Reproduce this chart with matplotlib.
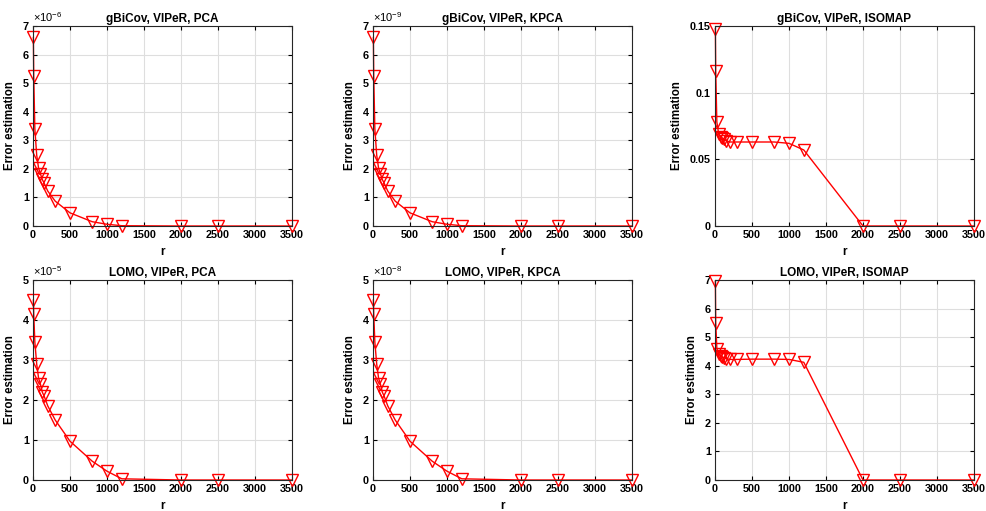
import matplotlib
matplotlib.use('Agg')
import matplotlib.pyplot as plt
import numpy as np
from matplotlib.ticker import MultipleLocator, FuncFormatter

plt.rcParams['font.family'] = ['Liberation Sans', 'DejaVu Sans']
plt.rcParams['font.weight'] = 'bold'
plt.rcParams['mathtext.default'] = 'regular'

# reduced dimension r
r = [5, 10, 25, 50, 75, 100, 125, 150, 200, 300, 500, 800, 1000, 1200, 2000, 2500, 3500]

# error estimation curves
gbicov_pca = [6.6e-6, 5.25e-6, 3.4e-6, 2.48e-6, 2.03e-6, 1.83e-6, 1.63e-6, 1.5e-6, 1.22e-6, 0.87e-6,
              0.46e-6, 0.15e-6, 0.06e-6, 0.01e-6, 0.0, 0.0, 0.0]
gbicov_kpca = [6.6e-9, 5.25e-9, 3.4e-9, 2.48e-9, 2.03e-9, 1.83e-9, 1.63e-9, 1.5e-9, 1.22e-9, 0.87e-9,
               0.46e-9, 0.15e-9, 0.06e-9, 0.01e-9, 0.0, 0.0, 0.0]
gbicov_isomap = [0.148, 0.116, 0.078, 0.069, 0.067, 0.066, 0.065, 0.064, 0.063, 0.063,
                 0.063, 0.063, 0.062, 0.057, 0.0, 0.0, 0.0]
lomo_pca = [4.5e-5, 4.15e-5, 3.45e-5, 2.9e-5, 2.55e-5, 2.4e-5, 2.2e-5, 2.1e-5, 1.85e-5, 1.5e-5,
            0.97e-5, 0.47e-5, 0.22e-5, 0.03e-5, 0.0, 0.0, 0.0]
lomo_kpca = [4.5e-8, 4.15e-8, 3.45e-8, 2.9e-8, 2.55e-8, 2.4e-8, 2.2e-8, 2.1e-8, 1.85e-8, 1.5e-8,
             0.97e-8, 0.47e-8, 0.22e-8, 0.03e-8, 0.0, 0.0, 0.0]
lomo_isomap = [6.95, 5.5, 4.6, 4.42, 4.35, 4.3, 4.28, 4.25, 4.22, 4.22,
               4.23, 4.23, 4.22, 4.12, 0.0, 0.0, 0.0]

titles = ['gBiCov, VIPeR, PCA', 'gBiCov, VIPeR, KPCA', 'gBiCov, VIPeR, ISOMAP',
          'LOMO, VIPeR, PCA', 'LOMO, VIPeR, KPCA', 'LOMO, VIPeR, ISOMAP']
series = [gbicov_pca, gbicov_kpca, gbicov_isomap, lomo_pca, lomo_kpca, lomo_isomap]
ylims = [7e-6, 7e-9, 0.15, 5e-5, 5e-8, 7]
ysteps = [1e-6, 1e-9, 0.05, 1e-5, 1e-8, 1]
sci = [True, True, False, True, True, False]

fig = plt.figure(figsize=(9.87, 5.11), dpi=100)

lefts = [33, 373, 715]
tops = [26, 280]
W, H = 987.0, 511.0

for i in range(6):
    row, col = divmod(i, 3)
    ax = fig.add_axes((lefts[col] / W, 1 - (tops[row] + 200) / H, 259 / W, 200 / H))
    ax.plot(r, series[i], color='red', lw=1.0, marker='v', markersize=8,
            markerfacecolor='none', markeredgecolor='red', markeredgewidth=1.0, clip_on=False)
    ax.set_xlim(0, 3500)
    ax.set_ylim(0, ylims[i])
    ax.xaxis.set_major_locator(MultipleLocator(500))
    ax.yaxis.set_major_locator(MultipleLocator(ysteps[i]))
    if sci[i]:
        # MATLAB-style exponent label above the y axis
        expo = int(round(np.log10(ysteps[i])))
        scale = 10.0 ** expo
        ax.yaxis.set_major_formatter(FuncFormatter(lambda v, p, s=scale: '%g' % round(v / s, 6)))
        ax.text(0.0, 1.012, r'$\times10^{%d}$' % expo, transform=ax.transAxes,
                ha='left', va='bottom', fontsize=8, fontweight='normal')
    else:
        ax.yaxis.set_major_formatter(FuncFormatter(lambda v, p: '%g' % round(v, 6)))
    ax.grid(True, color='#dedede', lw=0.8)
    ax.set_axisbelow(True)
    ax.tick_params(direction='in', top=True, right=True, labelsize=7.8, length=3, pad=3)
    for lab in ax.get_xticklabels() + ax.get_yticklabels():
        lab.set_fontweight('bold')
    for sp in ax.spines.values():
        sp.set_color('#262626')
        sp.set_linewidth(0.8)
    ax.set_title(titles[i], fontsize=8.5, fontweight='bold', pad=3)
    ax.set_xlabel('r', fontsize=8.5, fontweight='bold', labelpad=4)
    ax.set_ylabel('Error estimation', fontsize=8.3, fontweight='bold', labelpad=5)

fig.savefig('out.png', dpi=100)
